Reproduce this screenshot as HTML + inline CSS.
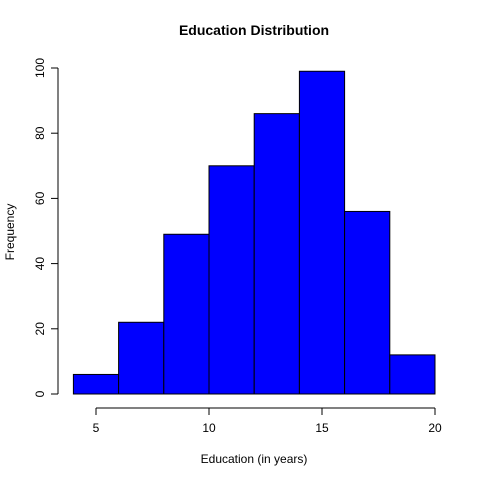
<!DOCTYPE html>
<html><head><meta charset="utf-8"><style>body{margin:0;background:#fff}svg{display:block;font-family:"Liberation Sans",Arial,sans-serif}</style></head>
<body>
<svg id="c" width="480" height="480" xmlns="http://www.w3.org/2000/svg">
<text x="254" y="35" text-anchor="middle" font-size="14" font-weight="bold">Education Distribution</text>
<text x="254" y="463" text-anchor="middle" font-size="12">Education (in years)</text>
<text transform="translate(14,232) rotate(-90)" text-anchor="middle" font-size="12">Frequency</text>
<g id="bars"></g><g id="axes"></g>
</svg>
<script>
const binEdges=[4,6,8,10,12,14,16,18,20];
const counts=[6,22,49,70,86,99,56,12];
const xTicks=[5,10,15,20];
const yTicks=[0,20,40,60,80,100];
const x=v=>96+(v-5)*(339/15);
const y=v=>394-v*3.26;
const NS="http://www.w3.org/2000/svg";
const bars=document.getElementById('bars'),axes=document.getElementById('axes');
function mk(t,a,p){const e=document.createElementNS(NS,t);for(const k in a)e.setAttribute(k,a[k]);p.appendChild(e);return e;}
counts.forEach((c,i)=>{const r=mk('rect',{x:x(binEdges[i]),y:y(c),width:x(binEdges[i+1])-x(binEdges[i]),height:y(0)-y(c),fill:'#0000ff',stroke:'#000','stroke-width':1},bars);

});
const xa=mk('line',{x1:x(xTicks[0]),x2:x(xTicks[xTicks.length-1]),y1:408,y2:408,stroke:'#000'},axes);


xTicks.forEach(t=>{mk('line',{x1:x(t),x2:x(t),y1:408,y2:415,stroke:'#000'},axes);
const l=mk('text',{x:x(t),y:432,'text-anchor':'middle','font-size':12},axes);l.textContent=t;

});
const ya=mk('line',{x1:58,x2:58,y1:y(yTicks[0]),y2:y(yTicks[yTicks.length-1]),stroke:'#000'},axes);


yTicks.forEach(t=>{mk('line',{x1:51,x2:58,y1:y(t),y2:y(t),stroke:'#000'},axes);
const l=mk('text',{transform:`translate(44,${y(t)}) rotate(-90)`,'text-anchor':'middle','font-size':12},axes);l.textContent=t;

});
</script>
</body></html>
